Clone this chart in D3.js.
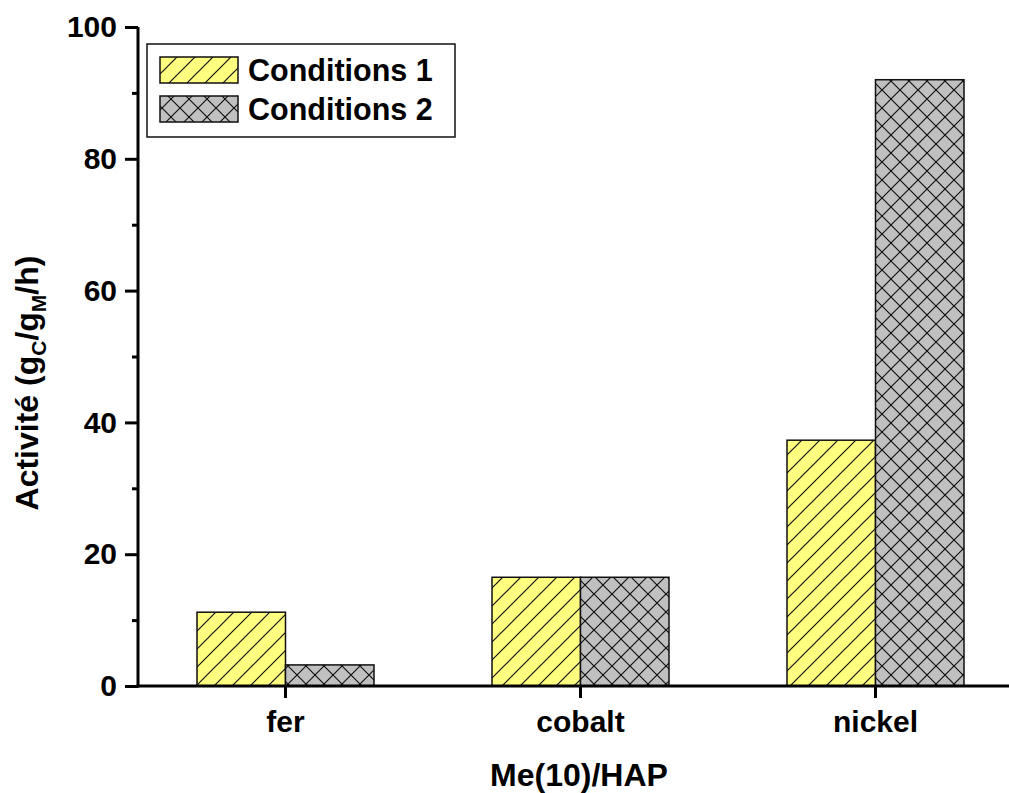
<!DOCTYPE html>
<html><head><meta charset="utf-8">
<script src="https://cdn.jsdelivr.net/npm/d3@7"></script>
<style>body{margin:0;background:#fff}svg{display:block}text{font-family:Arial,"Liberation Sans",sans-serif;font-weight:bold}</style>
</head><body><svg id="c" width="1009" height="793"></svg>
<script>
const categories = ["fer", "cobalt", "nickel"];
const seriesNames = ["Conditions 1", "Conditions 2"];
const conditions1 = [11.2, 16.5, 37.3];
const conditions2 = [3.2, 16.5, 92.0];
const yTicks = [0, 20, 40, 60, 80, 100];
const yMinorTicks = [10, 30, 50, 70, 90];

const svg = d3.select("#c");
const W = 1009, H = 793;
const mLeft = 138, mBottom = 686, mTop = 27;
const bandStep = 295;
const x = d3.scaleBand().domain(categories).range([mLeft, mLeft + bandStep * categories.length]).paddingInner(0).paddingOuter(0);
const y = d3.scaleLinear().domain([0, 100]).range([mBottom, mTop]);
const barW = 88.5;

const defs = svg.append("defs");
const p1 = defs.append("pattern").attr("id", "hatch1").attr("patternUnits", "userSpaceOnUse").attr("width", 18).attr("height", 18);
p1.append("rect").attr("width", 18).attr("height", 18).attr("fill", "#ffff80");
p1.append("path").attr("d", "M-4.5,4.5 L4.5,-4.5 M0,18 L18,0 M13.5,22.5 L22.5,13.5").attr("stroke", "#111").attr("stroke-width", 1.2);
const p2 = defs.append("pattern").attr("id", "hatch2").attr("patternUnits", "userSpaceOnUse").attr("width", 18).attr("height", 18);
p2.append("rect").attr("width", 18).attr("height", 18).attr("fill", "#c0c0c0");
p2.append("path").attr("d", "M0,0 L18,18 M-9,9 L9,27 M9,-9 L27,9 M0,18 L18,0 M-9,9 L9,-9 M9,27 L27,9").attr("stroke", "#111").attr("stroke-width", 1.2);

const fills = ["url(#hatch1)", "url(#hatch2)"];
const series = [conditions1, conditions2];

series.forEach((vals, si) => {
  svg.append("g").selectAll("rect").data(categories).join("rect")
    .attr("x", (d) => x(d) + x.bandwidth() / 2 + (si === 0 ? -barW : 0))
    .attr("y", (d, i) => y(vals[i]))
    .attr("width", barW)
    .attr("height", (d, i) => y(0) - y(vals[i]))
    .attr("fill", fills[si])
    .attr("stroke", "#111").attr("stroke-width", 1.5);
});

// Y axis
const yAxis = svg.append("g").attr("transform", `translate(${mLeft},0)`)
  .call(d3.axisLeft(y).tickValues(yTicks).tickSize(13).tickPadding(8).tickFormat(d3.format("d")));
yAxis.select(".domain").attr("stroke-width", 3).attr("d", `M0,${mBottom + 1.5}V${mTop}`);
yAxis.selectAll(".tick line").attr("stroke-width", 3);
yAxis.selectAll("text").attr("font-size", 30).attr("fill", "#000").attr("font-family", "Arial, 'Liberation Sans', sans-serif").attr("font-weight", "bold");
const yMinor = svg.append("g").attr("transform", `translate(${mLeft},0)`)
  .call(d3.axisLeft(y).tickValues(yMinorTicks).tickSize(6).tickFormat(""));
yMinor.select(".domain").remove();
yMinor.selectAll(".tick line").attr("stroke-width", 3);

// X axis
const xAxis = svg.append("g").attr("transform", `translate(0,${mBottom})`)
  .call(d3.axisBottom(x).tickSize(12).tickPadding(13));
xAxis.select(".domain").attr("stroke-width", 3).attr("d", `M${mLeft - 1.5},0H${W}`);
xAxis.selectAll(".tick line").attr("stroke-width", 3);
xAxis.selectAll("text").attr("font-size", 30).attr("fill", "#000").attr("font-family", "Arial, 'Liberation Sans', sans-serif").attr("font-weight", "bold");

// Axis titles
svg.append("text").attr("x", 579).attr("y", 786).attr("text-anchor", "middle").attr("font-size", 32).text("Me(10)/HAP");
const yl = svg.append("text").attr("transform", "translate(38,383) rotate(-90)").attr("text-anchor", "middle").attr("font-size", 32);
yl.append("tspan").text("Activité (g");
yl.append("tspan").attr("font-size", 21).attr("dy", 8).text("C");
yl.append("tspan").attr("dy", -8).text("/g");
yl.append("tspan").attr("font-size", 21).attr("dy", 8).text("M");
yl.append("tspan").attr("dy", -8).text("/h)");

// Legend
const lg = svg.append("g");
lg.append("rect").attr("x", 147).attr("y", 44).attr("width", 308).attr("height", 93).attr("fill", "#fff").attr("stroke", "#111").attr("stroke-width", 1.5);
seriesNames.forEach((name, i) => {
  lg.append("rect").attr("x", 160).attr("y", 57 + i * 39).attr("width", 78).attr("height", 26)
    .attr("fill", fills[i]).attr("stroke", "#111").attr("stroke-width", 1.5);
  lg.append("text").attr("x", 248).attr("y", 81 + i * 39).attr("font-size", 30.5).text(name);
});
</script></body></html>
